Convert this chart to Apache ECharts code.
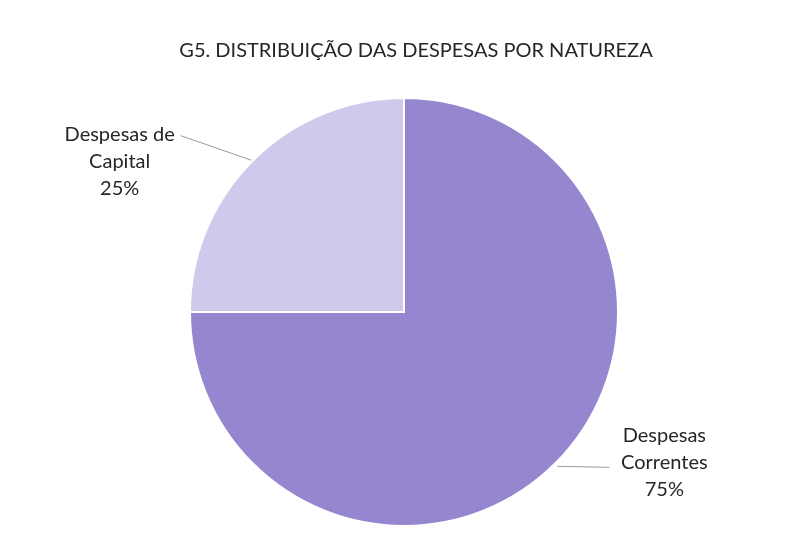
<!DOCTYPE html>
<html>
<head>
<meta charset="utf-8">
<script src="https://cdn.jsdelivr.net/npm/echarts@6/dist/echarts.min.js"></script>
<style>
  html, body { margin: 0; padding: 0; background: #fff; }
  #chart { width: 788px; height: 553px; }
</style>
</head>
<body>
<div id="chart"></div>
<script>
// dados
var categories = ['Despesas Correntes', 'Despesas de Capital'];
var labelTexts = ['Despesas\nCorrentes', 'Despesas de\nCapital'];
var values = [75, 25];
var colors = ['#9686D0', '#D0C9EC'];

var pieData = [];
for (let i = 0; i < categories.length; i++) {
    pieData.push({
        name: categories[i],
        value: values[i],
        itemStyle: { color: colors[i] }
    });
}

var chart = echarts.init(document.getElementById('chart'));

var option = {
    animation: false,
    title: {
        text: 'G5. DISTRIBUIÇÃO DAS DESPESAS POR NATUREZA',
        left: 411,
        top: 36,
        textAlign: 'center',
        textStyle: {
            fontFamily: 'Lato',
            fontSize: 20,
            fontWeight: 'normal',
            color: '#262626'
        }
    },
    series: [{
        type: 'pie',
        center: [404, 312],
        radius: 214,
        startAngle: 90,
        clockwise: true,
        silent: true,
        itemStyle: {
            borderColor: '#ffffff',
            borderWidth: 2
        },
        label: {
            show: true,
            position: 'outside',
            fontFamily: 'Lato',
            fontSize: 20,
            lineHeight: 27,
            color: '#262626',
            formatter: function (p) {
                return labelTexts[p.dataIndex] + '\n' + p.value + '%';
            }
        },
        labelLine: {
            show: true,
            length: 10,
            length2: 10,
            lineStyle: { color: '#9a9a9a', width: 1 }
        },
        // posição dos rótulos ao estilo Excel, relativa ao ponto na borda da fatia
        labelLayout: function (params) {
            var p0 = params.labelLinePoints[0];
            if (params.dataIndex === 0) {
                return {
                    x: p0[0] + 109,
                    y: p0[1] - 1,
                    align: 'center',
                    verticalAlign: 'middle',
                    labelLinePoints: [[p0[0] + 2, p0[1] + 3], [p0[0] + 54, p0[1] + 4], [p0[0] + 54, p0[1] + 4]]
                };
            }
            return {
                x: p0[0] - 133,
                y: p0[1] + 1,
                align: 'center',
                verticalAlign: 'middle',
                labelLinePoints: [[p0[0], p0[1]], [p0[0] - 72, p0[1] - 25], [p0[0] - 72, p0[1] - 25]]
            };
        },
        data: pieData
    }]
};

chart.setOption(option);
</script>
</body>
</html>
